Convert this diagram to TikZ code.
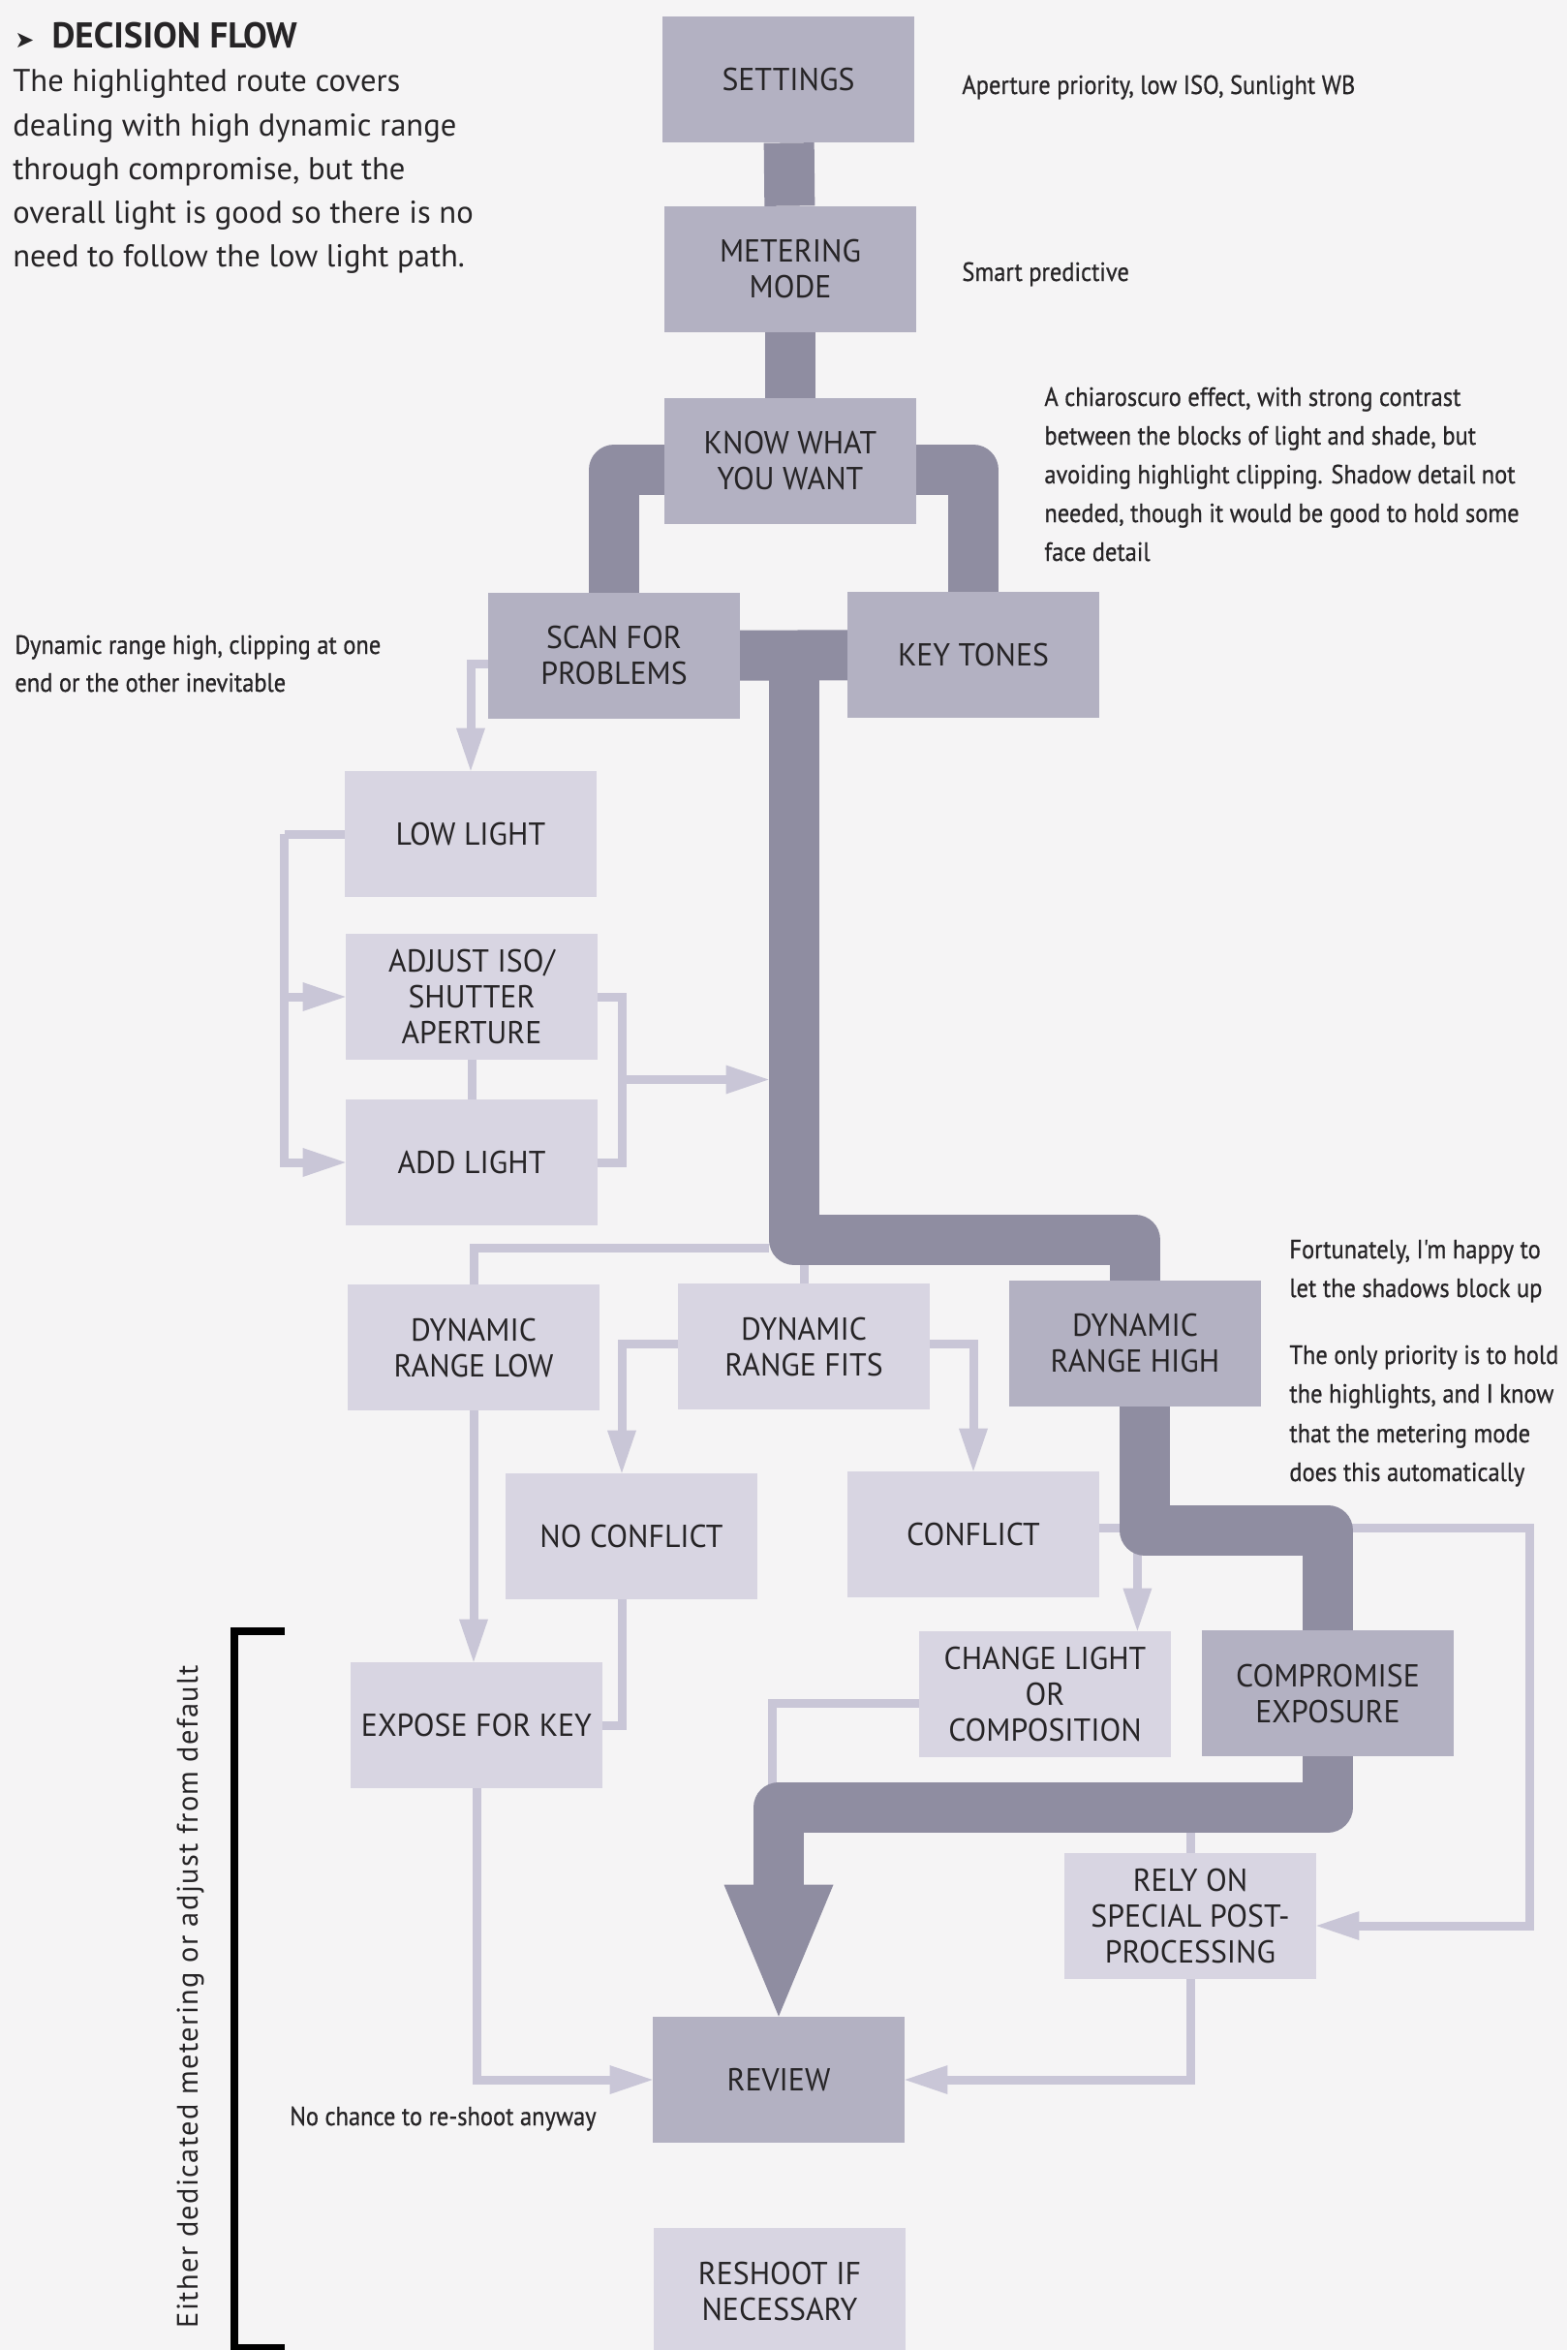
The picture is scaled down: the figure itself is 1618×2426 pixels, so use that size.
\documentclass[tikz,border=0pt]{standalone}
\usepackage{fontspec}
\setmainfont{PT Sans}
\newfontfamily\boxfont[FakeStretch=0.97]{PT Sans}
\newfontfamily\annofont[FakeStretch=0.9,FakeBold=0.6]{PT Sans}
\newfontfamily\symfont{DejaVu Sans}
\newfontfamily\sidefont[LetterSpace=4.5]{PT Sans}
\usetikzlibrary{arrows.meta,calc}
\pgfdeclarelayer{back}
\pgfdeclarelayer{bg}
\pgfsetlayers{back,bg,main}
\definecolor{pagec}{HTML}{F5F4F5}
\definecolor{boxL}{HTML}{D8D5E2}
\definecolor{boxM}{HTML}{B3B1C2}
\definecolor{barc}{HTML}{8F8DA1}
\definecolor{linec}{HTML}{C9C6D7}
\definecolor{inkc}{HTML}{262426}
\begin{document}
\begin{tikzpicture}[x=0.5pt,y=-0.5pt,
  box/.style={rectangle, minimum width=130pt, minimum height=65pt, inner sep=0pt, align=center,
    font=\boxfont\fontsize{16.4}{18.5}\selectfont, text=inkc},
  lbox/.style={box, fill=boxL},
  mbox/.style={box, fill=boxM},
  bar/.style={draw=barc, line width=26pt, line join=round},
  thinline/.style={draw=linec, line width=4.5pt},
  tip/.style={thinline, -{Triangle[width=15pt,length=22pt,line width=0pt]}},
  anno/.style={anchor=base west, inner sep=0pt, font=\annofont\fontsize{13.6}{20}\selectfont, text=inkc},
  para/.style={anchor=base west, inner sep=0pt, font=\fontsize{16.3}{22.5}\selectfont, text=inkc},
]
\begin{pgfonlayer}{back}
\fill[pagec] (0,0) rectangle (1618,2426);
\end{pgfonlayer}
\useasboundingbox (0,0) rectangle (1618,2426);

% ---------- boxes ----------
\node[mbox] (settings) at (814,82) {SETTINGS};
\node[mbox] (metering) at (816,278) {METERING\\MODE};
\node[mbox] (know) at (816,476) {KNOW WHAT\\YOU WANT};
\node[mbox] (scan) at (634,677) {SCAN FOR\\PROBLEMS};
\node[mbox] (key) at (1005,676) {KEY TONES};
\node[lbox] (lowlight) at (486,861) {LOW LIGHT};
\node[lbox] (adjust) at (487,1029) {ADJUST ISO/\\SHUTTER\\APERTURE};
\node[lbox] (addlight) at (487,1200) {ADD LIGHT};
\node[lbox] (drlow) at (489,1391) {DYNAMIC\\RANGE LOW};
\node[lbox] (drfits) at (830,1390) {DYNAMIC\\RANGE FITS};
\node[mbox] (drhigh) at (1172,1387) {DYNAMIC\\RANGE HIGH};
\node[lbox] (noconf) at (652,1586) {NO CONFLICT};
\node[lbox] (conf) at (1005,1584) {CONFLICT};
\node[lbox] (expose) at (492,1781) {EXPOSE FOR KEY};
\node[lbox] (change) at (1079,1749) {CHANGE LIGHT\\OR\\COMPOSITION};
\node[mbox] (compromise) at (1371,1748) {COMPROMISE\\EXPOSURE};
\node[lbox] (rely) at (1229,1978) {RELY ON\\SPECIAL POST-\\PROCESSING};
\node[mbox] (review) at (804,2147) {REVIEW};
\node[lbox] (reshoot) at (805,2365) {RESHOOT IF\\NECESSARY};

% ---------- helper coordinates ----------
\coordinate (m) at ($(scan.east)!0.5!(key.west)$);
\coordinate (barL) at ($(m)+(-26,0)$);
\coordinate (lx) at ($(lowlight.west)+(-62,0)$);
\coordinate (rx) at ($(adjust.east)!0.5!(addlight.east)+(25,0)$);
\coordinate (j1) at ($(barL |- drlow.north)+(0,-37)$);
\coordinate (rr) at ($(conf.east)+(444,200)$);
\coordinate (cb) at ($(change.north east)+(-35,0)$);
\coordinate (cbt) at ($(cb |- conf.east)+(0,-7)$);
\coordinate (turn) at ($(review.north)+(0,-216)$);

\begin{pgfonlayer}{bg}
% ---------- thin connectors ----------
\draw[tip] ($(scan.west)+(0,8)$) -| (lowlight.north);
\draw[thinline] (lowlight.west) -- (lx);
\draw[tip] (lx) |- (adjust.west);
\draw[tip] (lx) |- (addlight.west);
\draw[thinline] (adjust.south) -- (addlight.north);
\draw[thinline] (adjust.east) -| (rx) |- (addlight.east);
\draw[tip] (rx) -- (rx -| barL);
\draw[thinline] (j1) -| (drlow.north);
\draw[thinline] (drfits.north) -- ++(0,-45);
\draw[tip] ($(drfits.west)+(0,-3)$) -| ($(noconf.north)+(-10,0)$);
\draw[tip] ($(drfits.east)+(0,-3)$) -| (conf.north);
\draw[tip] (drlow.south) -- (drlow.south |- expose.north);
\draw[thinline] ($(noconf.south)+(-10,0)$) |- (expose.east);
\draw[tip] ($(conf.east)+(0,-7)$) -| (rr) |- ($(rely.east)+(0,10)$);
\draw[tip] (cbt) -- (cb);
\draw[thinline] ($(change.west)+(0,9)$) -| ($(turn)+(-7,0)$);
\draw[thinline] (rely.north) -- ++(0,-45);
\draw[tip] (rely.south) |- (review.east);
\draw[tip] (expose.south) |- (review.west);

% ---------- highlighted route ----------
\draw[bar] (settings) -- (metering);
\draw[bar] (metering) -- (know);
\draw[bar] ($(know.center)+(0,9)$) -| (scan.center);
\draw[bar] ($(know.center)+(0,9)$) -| (key.center);
\draw[bar] (scan.center) -- (key.center);
\draw[bar] (m) |- ($(drhigh.north)+(0,-42)$) -- (drhigh.center);
\draw[bar] ($(drhigh.center)+(10,0)$) |- ($(compromise.north)+(0,-103)$) -- (compromise.center);
\draw[bar, -{Triangle[width=56.5pt,length=68pt,line width=0pt]}] (compromise.center) |- (turn) -- (review.north);
\end{pgfonlayer}

% ---------- texts ----------
\node[anchor=base west, inner sep=0pt, text=inkc, font=\bfseries\fontsize{18.5}{20}\selectfont] (title) at (15,49)
  {{\symfont\fontsize{12}{12}\selectfont ➤}\hspace{9pt}DECISION FLOW};
\node[para] (p1) at (13,94) {The highlighted route covers};
\node[para] (p2) at (13,140) {dealing with high dynamic range};
\node[para] (p3) at (13,185) {through compromise, but the};
\node[para] (p4) at (13,230) {overall light is good so there is no};
\node[para] (p5) at (13,275) {need to follow the low light path.};

\node[anno] (a1) at (993,97) {Aperture priority, low ISO, Sunlight WB};
\node[anno] (a2) at (993,290) {Smart predictive};
\node[anno] (a3) at (1078,419) {A chiaroscuro effect, with strong contrast};
\node[anno] (a4) at (1078,459) {between the blocks of light and shade, but};
\node[anno] (a5) at (1078,499) {avoiding highlight clipping. Shadow detail not};
\node[anno] (a6) at (1078,539) {needed, though it would be good to hold some};
\node[anno] (a7) at (1078,579) {face detail};
\node[anno] (a8) at (15,675) {Dynamic range high, clipping at one};
\node[anno] (a9) at (15,714) {end or the other inevitable};
\node[anno] (a10) at (1331,1299) {Fortunately, I'm happy to};
\node[anno] (a11) at (1331,1339) {let the shadows block up};
\node[anno] (a12) at (1331,1408) {The only priority is to hold};
\node[anno] (a13) at (1331,1448) {the highlights, and I know};
\node[anno] (a14) at (1331,1489) {that the metering mode};
\node[anno] (a15) at (1331,1529) {does this automatically};
\node[anno] (a16) at (299,2194) {No chance to re-shoot anyway};

\node[rotate=90, anchor=base, inner sep=0pt, text=inkc, font=\sidefont\fontsize{15.2}{16}\selectfont] (side) at (204,2061)
  {Either dedicated metering or adjust from default};
\draw[black, line width=4pt] (294,1684) -- (242,1684) -- (242,2424) -- (294,2424);
\end{tikzpicture}
\end{document}
